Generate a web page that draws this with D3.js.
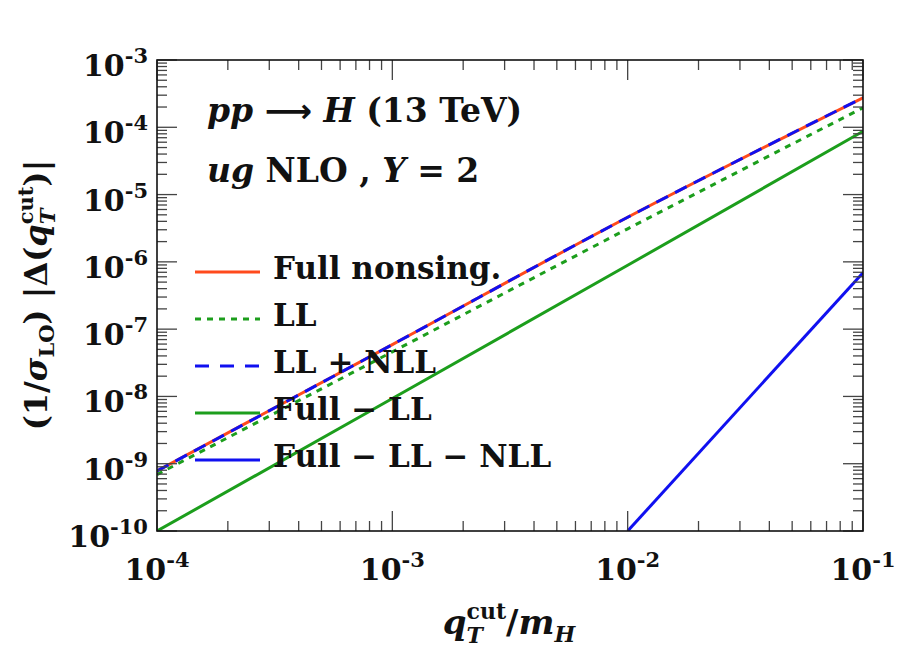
<!DOCTYPE html>
<html>
<head>
<meta charset="utf-8">
<script src="https://cdn.jsdelivr.net/npm/d3@7"></script>
<style>
  body { margin: 0; background: #fff; }
  svg text { font-family: "DejaVu Serif", serif; font-weight: bold; fill: #111; white-space: pre; }
</style>
</head>
<body>
<svg id="chart" width="900" height="655"></svg>
<script>
// values
var qT = [1e-4, 1e-3, 1e-2, 1e-1];
var fullNonsing = [7.8e-10, 5.9e-8, 4.6e-6, 2.75e-4];
var llOnly = [6.9e-10, 4.6e-8, 3.1e-6, 1.95e-4];
var llNll = [7.8e-10, 5.9e-8, 4.6e-6, 2.75e-4];
var fullMinusLL = [1.0e-10, 9.3e-9, 8.9e-7, 8.7e-5];
var qTHigh = [1e-2, 1e-1];
var fullMinusLLNLL = [1.0e-10, 6.9e-7];

var xExp = [-4, -3, -2, -1];
var yExp = [-10, -9, -8, -7, -6, -5, -4, -3];
var legendNames = ["Full nonsing.", "LL", "LL + NLL", "Full \u2212 LL", "Full \u2212 LL \u2212 NLL"];

var svg = d3.select("#chart"),
    margin = { top: 60, right: 37, bottom: 124, left: 157 },
    width = +svg.attr("width") - margin.left - margin.right,
    height = +svg.attr("height") - margin.top - margin.bottom,
    g = svg.append("g").attr("transform", "translate(" + margin.left + "," + margin.top + ")");

var x = d3.scaleLog().domain([1e-4, 1e-1]).range([0, width]);
var y = d3.scaleLog().domain([1e-10, 1e-3]).range([height, 0]);

var red = "#ff4a1c", green = "#1c9e1c", blue = "#1010f0";

// lay out a small piece of math text, part by part
function mathText(parent, parts, anchor) {
    var grp = parent.append("g");
    var cx = 0, stackX = null, stackW = 0;
    parts.forEach(function (p) {
        var t = grp.append("text")
            .attr("x", cx)
            .attr("y", -(p.sh || 0))
            .attr("xml:space", "preserve")
            .style("font-size", (p.sz || 30) + "px")
            .style("font-style", p.it ? "italic" : "normal")
            .style("font-weight", p.w || "bold")
            .text(p.t);
        if (p.font) t.style("font-family", p.font);
        var w = t.node().getComputedTextLength();
        if (p.stack) {
            stackX = cx; stackW = w;
        } else if (stackX !== null) {
            cx = stackX + Math.max(stackW, w);
            stackX = null;
        } else {
            cx += w;
        }
    });
    var shift = anchor === "middle" ? -cx / 2 : anchor === "end" ? -cx : 0;
    grp.selectAll("text").attr("x", function () { return +d3.select(this).attr("x") + shift; });
    return grp;
}

function powerLabel(e) {
    return [{ t: "10", sz: 30 }, { t: "-" + (-e), sz: 21, sh: 13 }];
}

// clip for the data
svg.append("clipPath").attr("id", "clip")
    .append("rect").attr("width", width).attr("height", height);

var line = d3.line()
    .x(function (d) { return x(d[0]); })
    .y(function (d) { return y(d[1]); })
    .curve(d3.curveMonotoneX);

var plot = g.append("g").attr("clip-path", "url(#clip)");

// drawing order (bottom to top); leg says where it sits in the legend
var series = [
    { xs: qT, ys: fullMinusLL, color: green, dash: null, leg: 3 },
    { xs: qT, ys: llOnly, color: green, dash: "6,6", leg: 1 },
    { xs: qT, ys: fullNonsing, color: red, dash: null, leg: 0 },
    { xs: qT, ys: llNll, color: blue, dash: "13,8", leg: 2 },
    { xs: qTHigh, ys: fullMinusLLNLL, color: blue, dash: null, leg: 4 }
];

series.forEach(function (s) {
    plot.append("path")
        .datum(d3.zip(s.xs, s.ys))
        .attr("d", line)
        .attr("fill", "none")
        .attr("stroke", s.color)
        .attr("stroke-width", 3)
        .attr("stroke-dasharray", s.dash);
});

// ticks on all four sides, pointing inward
var xMinor = [], yMinor = [];
xExp.slice(0, 3).forEach(function (e) { d3.range(2, 10).forEach(function (m) { xMinor.push(m * Math.pow(10, e)); }); });
yExp.slice(0, 7).forEach(function (e) { d3.range(2, 10).forEach(function (m) { yMinor.push(m * Math.pow(10, e)); }); });

var ticks = g.append("g").attr("stroke", "#444").attr("stroke-width", 1.3);
xExp.forEach(function (e) {
    var px = x(Math.pow(10, e));
    ticks.append("line").attr("x1", px).attr("x2", px).attr("y1", height).attr("y2", height - 20);
    ticks.append("line").attr("x1", px).attr("x2", px).attr("y1", 0).attr("y2", 20);
});
xMinor.forEach(function (v) {
    var px = x(v);
    ticks.append("line").attr("x1", px).attr("x2", px).attr("y1", height).attr("y2", height - 10);
    ticks.append("line").attr("x1", px).attr("x2", px).attr("y1", 0).attr("y2", 10);
});
yExp.forEach(function (e) {
    var py = y(Math.pow(10, e));
    ticks.append("line").attr("y1", py).attr("y2", py).attr("x1", 0).attr("x2", 20);
    ticks.append("line").attr("y1", py).attr("y2", py).attr("x1", width).attr("x2", width - 20);
});
yMinor.forEach(function (v) {
    var py = y(v);
    ticks.append("line").attr("y1", py).attr("y2", py).attr("x1", 0).attr("x2", 10);
    ticks.append("line").attr("y1", py).attr("y2", py).attr("x1", width).attr("x2", width - 10);
});

g.append("rect")
    .attr("width", width).attr("height", height)
    .attr("fill", "none").attr("stroke", "#111").attr("stroke-width", 1.6);

// tick labels
xExp.forEach(function (e) {
    mathText(g, powerLabel(e), "middle")
        .attr("transform", "translate(" + x(Math.pow(10, e)) + "," + (height + 49) + ")");
});
yExp.forEach(function (e) {
    mathText(g, powerLabel(e), "end")
        .attr("transform", "translate(-9," + (y(Math.pow(10, e)) + 16) + ")");
});

// axis titles
mathText(svg, [
    { t: "q", it: true, sz: 34 },
    { t: "cut", sz: 22, sh: 15, stack: true },
    { t: "T", it: true, sz: 22, sh: -9 },
    { t: "/", sz: 34 },
    { t: "m", it: true, sz: 34 },
    { t: "H", it: true, sz: 22, sh: -8 }
], "middle").attr("transform", "translate(509,634)");

mathText(svg, [
    { t: "(1/", sz: 32 },
    { t: "\u03c3", it: true, sz: 32 },
    { t: "LO", sz: 21, sh: -7 },
    { t: ") |\u0394(", sz: 32 },
    { t: "q", it: true, sz: 32 },
    { t: "cut", sz: 21, sh: 14, stack: true },
    { t: "T", it: true, sz: 21, sh: -8 },
    { t: ")|", sz: 32 }
], "middle").attr("transform", "translate(47,295) rotate(-90)");

// annotation
mathText(svg, [
    { t: "pp ", it: true, sz: 33 },
    { t: "\u27f6", sz: 33, font: "DejaVu Sans" },
    { t: " ", sz: 33 },
    { t: "H", it: true, sz: 33 },
    { t: " (13 TeV)", sz: 33 }
]).attr("transform", "translate(207,122)");
mathText(svg, [
    { t: "ug", it: true, sz: 33 },
    { t: " NLO , ", sz: 33 },
    { t: "Y", it: true, sz: 33 },
    { t: " = 2", sz: 33 }
]).attr("transform", "translate(207,182)");

// legend
var legendData = series.slice().sort(function (a, b) { return a.leg - b.leg; });
var legend = svg.append("g").attr("transform", "translate(195,272)");
var legendRows = legend.selectAll("g")
    .data(legendData)
    .enter()
    .append("g")
    .attr("transform", function (d, i) { return "translate(0," + (i * 47) + ")"; });
legendRows.append("line")
    .attr("x1", 0).attr("x2", 65)
    .attr("stroke", function (d) { return d.color; })
    .attr("stroke-width", 3)
    .attr("stroke-dasharray", function (d, i) { return i === 2 ? "14,11" : d.dash; });
legendRows.append("text")
    .attr("x", 78).attr("y", 7)
    .style("font-size", "31px")
    .text(function (d, i) { return legendNames[i]; });
</script>
</body>
</html>
